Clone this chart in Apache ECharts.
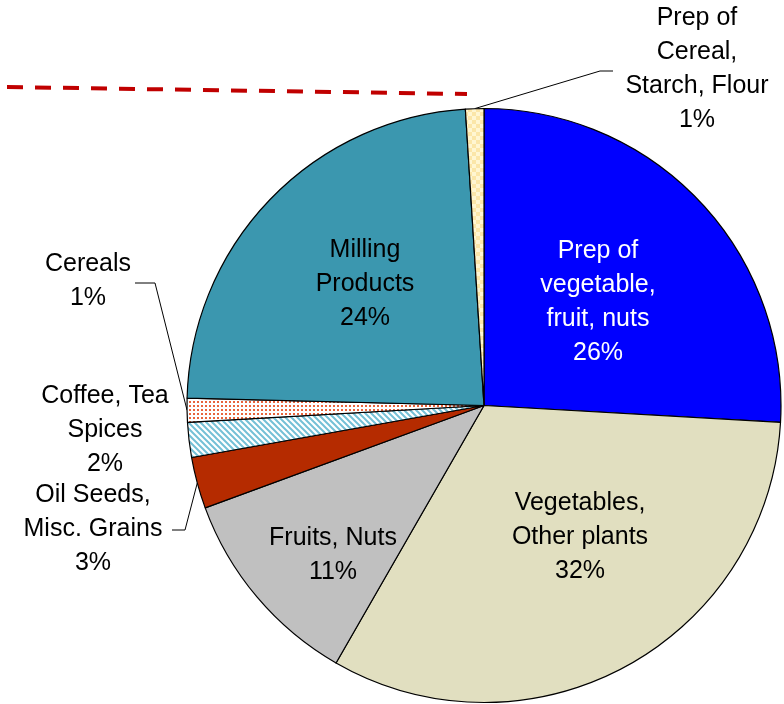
<!DOCTYPE html>
<html>
<head>
<meta charset="utf-8">
<script src="https://cdn.jsdelivr.net/npm/echarts@6/dist/echarts.min.js"></script>
<style>
  html, body { margin: 0; padding: 0; background: #fff; }
  #pieChart { width: 784px; height: 704px; }
</style>
</head>
<body>
<div id="pieChart"></div>
<script>
// slices, clockwise from 12 o'clock
const names = [
  'Prep of\nvegetable,\nfruit, nuts',
  'Vegetables,\nOther plants',
  'Fruits, Nuts',
  'Oil Seeds,\nMisc. Grains',
  'Coffee, Tea\nSpices',
  'Cereals',
  'Milling\nProducts',
  'Prep of\nCereal,\nStarch, Flour'
]
const shares = [25.9, 32.4, 11.1, 2.8, 1.9, 1.3, 23.6, 1.0]

// small tiled fills for the patterned slices
function makePattern (size, draw) {
  const c = document.createElement('canvas')
  c.width = size
  c.height = size
  draw(c.getContext('2d'), size)
  return { image: c, repeat: 'repeat' }
}
const checker = makePattern(8, (ctx) => {
  ctx.fillStyle = '#fff6d2'
  ctx.fillRect(0, 0, 8, 8)
  ctx.fillStyle = '#fbe6a8'
  ctx.fillRect(0, 0, 4, 4)
  ctx.fillRect(4, 4, 4, 4)
})
const dots = makePattern(4, (ctx) => {
  ctx.fillStyle = '#ffffff'
  ctx.fillRect(0, 0, 4, 4)
  ctx.fillStyle = '#e8643c'
  ctx.fillRect(1, 1, 2, 2)
})
const hatch = makePattern(6, (ctx) => {
  ctx.fillStyle = '#ffffff'
  ctx.fillRect(0, 0, 6, 6)
  ctx.strokeStyle = '#74c0d6'
  ctx.lineWidth = 2
  ctx.beginPath()
  ctx.moveTo(-3, -3); ctx.lineTo(9, 9)
  ctx.moveTo(-9, -3); ctx.lineTo(3, 9)
  ctx.moveTo(3, -3); ctx.lineTo(15, 9)
  ctx.stroke()
})

const colors = ['#0000ff', '#e1dfc0', '#c0c0c0', '#b52b00', hatch, dots, '#3b97af', checker]
const textColors = ['#fff', '#000', '#000', '#000', '#000', '#000', '#000', '#000']

// where each label sits and how its leader runs
const labelPos = [
  { x: 598, y: 302 },
  { x: 580, y: 537 },
  { x: 333, y: 555 },
  { x: 93, y: 529, line: [[185, 530], [172, 530]] },
  { x: 105, y: 430 },
  { x: 88, y: 281, line: [[155, 283], [135, 283]] },
  { x: 365, y: 284 },
  { x: 697, y: 69, line: [[600, 71], [613, 71]] }
]
const outside = [false, false, false, true, true, true, false, true]

let charts = echarts.init(document.getElementById('pieChart'))
let options = {
  animation: false,
  graphic: [
    {
      type: 'line',
      shape: { x1: 7, y1: 87, x2: 467, y2: 94 },
      style: { stroke: '#c00000', lineWidth: 4, lineDash: [16, 12] },
      z: 10
    }
  ],
  series: [
    {
      type: 'pie',
      center: [484, 405.5],
      radius: 297,
      startAngle: 90,
      clockwise: true,
      avoidLabelOverlap: false,
      percentPrecision: 0,
      emphasis: { disabled: true },
      itemStyle: { borderColor: '#000', borderWidth: 1.2 },
      label: {
        formatter: '{b}\n{d}%',
        fontFamily: 'Liberation Sans, Arial, sans-serif',
        fontSize: 25,
        lineHeight: 34,
        align: 'center',
        width: 230,
        overflow: 'none'
      },
      labelLine: {
        lineStyle: { color: '#000', width: 1 },
        length: 15,
        length2: 10
      },
      labelLayout: function (params) {
        const p = labelPos[params.dataIndex]
        const out = { x: p.x, y: p.y, align: 'center', verticalAlign: 'middle' }
        if (p.line && params.labelLinePoints) {
          out.labelLinePoints = [params.labelLinePoints[0], p.line[0], p.line[1]]
        }
        return out
      },
      data: names.map((n, i) => ({
        name: n,
        value: shares[i],
        itemStyle: { color: colors[i] },
        label: {
          position: outside[i] ? 'outside' : 'inside',
          color: textColors[i]
        },
        labelLine: { show: outside[i] && i !== 4 }
      }))
    }
  ]
}
charts.setOption(options)
</script>
</body>
</html>
